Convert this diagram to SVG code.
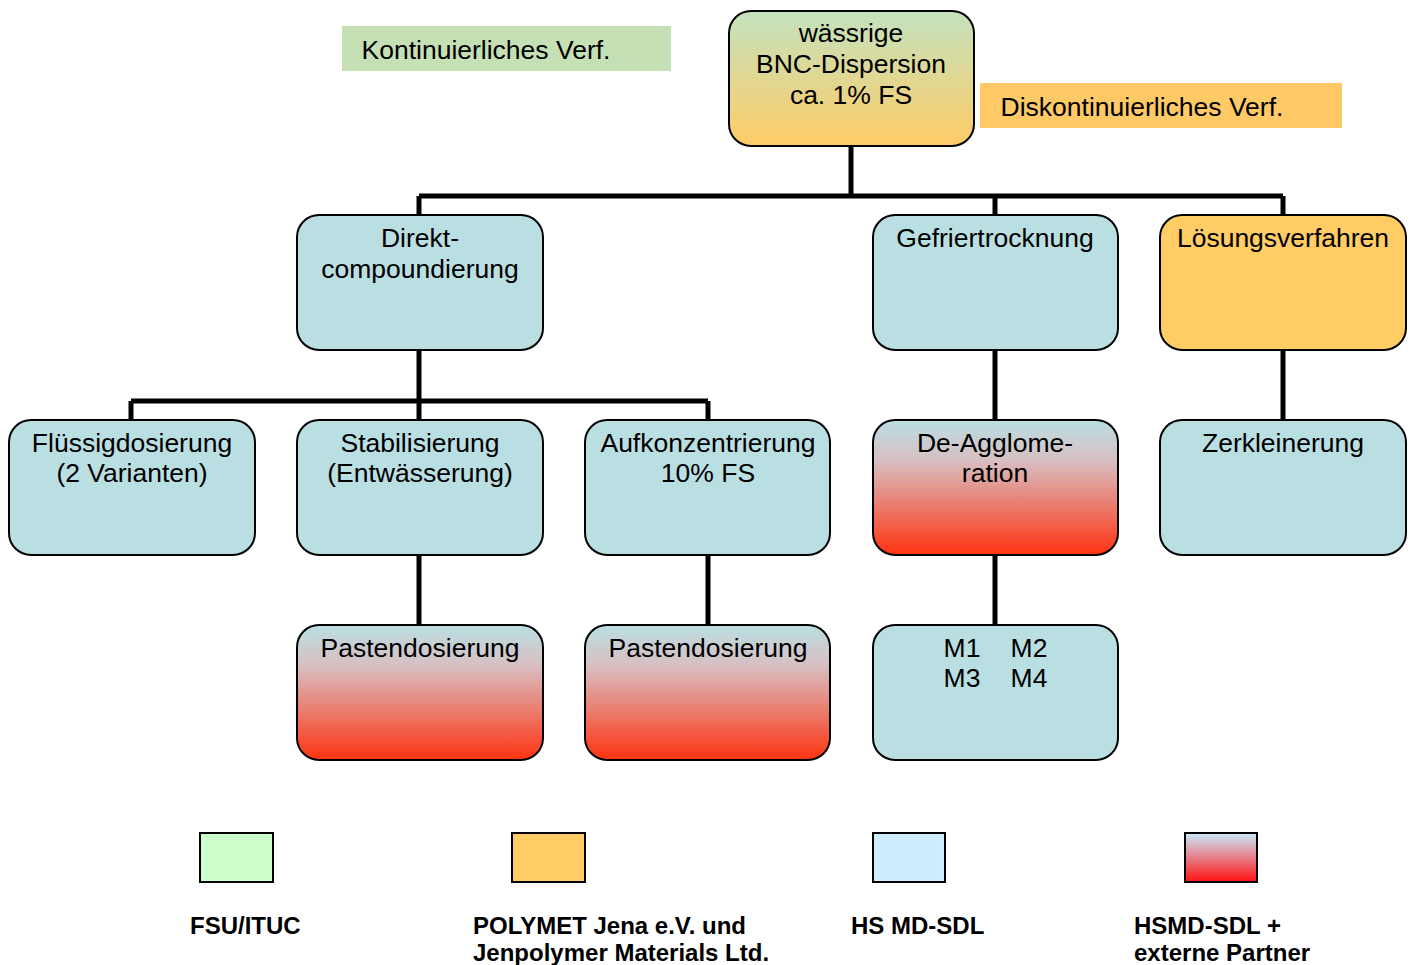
<svg xmlns="http://www.w3.org/2000/svg" width="1415" height="965" viewBox="0 0 1415 965">
<style>
.n{stroke:#000;stroke-width:2}
.b{fill:#BADFE3}
.t{font-family:"Liberation Sans",Arial,sans-serif;font-size:26.5px;fill:#000;text-anchor:middle}
.l{font-family:"Liberation Sans",Arial,sans-serif;font-size:24px;font-weight:bold;fill:#000}
.c{stroke:#000;stroke-width:5;fill:none}
.s{stroke:#000;stroke-width:2}
</style>
<defs>
<linearGradient id="gTop" x1="0" y1="0" x2="0" y2="1"><stop offset="0" stop-color="#C3E2BF"/><stop offset="1" stop-color="#FFCC66"/></linearGradient>
<linearGradient id="gRed" x1="0" y1="0" x2="0" y2="1"><stop offset="0" stop-color="#BADFE3"/><stop offset="0.3" stop-color="#D8BFC2"/><stop offset="1" stop-color="#FF3311"/></linearGradient>
<linearGradient id="gLeg" x1="0" y1="0" x2="0" y2="1"><stop offset="0" stop-color="#CCECFF"/><stop offset="1" stop-color="#FF1111"/></linearGradient>
</defs>
<g id="labels">
<rect x="342" y="26" width="329" height="45" fill="#C5E0B4"/>
<text class="t" x="486" y="59">Kontinuierliches Verf.</text>
<rect x="980" y="83" width="362" height="45" fill="#FFC966"/>
<text class="t" x="1142" y="116">Diskontinuierliches Verf.</text>
</g>
<g id="connectors">
<path class="c" d="M851,146 V196 M419,196 H1283 M419,196 V216 M995,196 V216 M1283,196 V216"/>
<path class="c" d="M419,350 V401 M131,401 H708 M131,401 V421 M419,401 V421 M708,401 V421"/>
<path class="c" d="M995,350 V421 M1283,350 V421"/>
<path class="c" d="M419,555 V626 M708,555 V626 M995,555 V626"/>
</g>
<g id="top"><rect class="n" x="729" y="11" width="245" height="135" rx="22" fill="url(#gTop)"/>
<text class="t" x="851" y="42">wässrige</text><text class="t" x="851" y="73">BNC-Dispersion</text><text class="t" x="851" y="104">ca. 1% FS</text></g>
<g id="direkt"><rect class="n b" x="297" y="215" width="246" height="135" rx="22"/>
<text class="t" x="420" y="247">Direkt-</text><text class="t" x="420" y="278">compoundierung</text></g>
<g id="gefrier"><rect class="n b" x="873" y="215" width="245" height="135" rx="22"/>
<text class="t" x="995" y="247">Gefriertrocknung</text></g>
<g id="loesung"><rect class="n" x="1160" y="215" width="246" height="135" rx="22" fill="#FFCC66"/>
<text class="t" x="1283" y="247">Lösungsverfahren</text></g>
<g id="fluessig"><rect class="n b" x="9" y="420" width="246" height="135" rx="22"/>
<text class="t" x="132" y="452">Flüssigdosierung</text><text class="t" x="132" y="482">(2 Varianten)</text></g>
<g id="stabil"><rect class="n b" x="297" y="420" width="246" height="135" rx="22"/>
<text class="t" x="420" y="452">Stabilisierung</text><text class="t" x="420" y="482">(Entwässerung)</text></g>
<g id="aufkonz"><rect class="n b" x="585" y="420" width="245" height="135" rx="22"/>
<text class="t" x="708" y="452">Aufkonzentrierung</text><text class="t" x="708" y="482">10% FS</text></g>
<g id="deagg"><rect class="n" x="873" y="420" width="245" height="135" rx="22" fill="url(#gRed)"/>
<text class="t" x="995" y="452">De-Agglome-</text><text class="t" x="995" y="482">ration</text></g>
<g id="zerkl"><rect class="n b" x="1160" y="420" width="246" height="135" rx="22"/>
<text class="t" x="1283" y="452">Zerkleinerung</text></g>
<g id="paste1"><rect class="n" x="297" y="625" width="246" height="135" rx="22" fill="url(#gRed)"/>
<text class="t" x="420" y="657">Pastendosierung</text></g>
<g id="paste2"><rect class="n" x="585" y="625" width="245" height="135" rx="22" fill="url(#gRed)"/>
<text class="t" x="708" y="657">Pastendosierung</text></g>
<g id="m"><rect class="n b" x="873" y="625" width="245" height="135" rx="22"/>
<text class="t" x="962" y="657">M1</text><text class="t" x="1029" y="657">M2</text><text class="t" x="962" y="687">M3</text><text class="t" x="1029" y="687">M4</text></g>
<g id="legend">
<rect class="s" x="200" y="833" width="73" height="49" fill="#CCFFCC"/>
<rect class="s" x="512" y="833" width="73" height="49" fill="#FFCC66"/>
<rect class="s" x="873" y="833" width="72" height="49" fill="#CCECFF"/>
<rect class="s" x="1185" y="833" width="72" height="49" fill="url(#gLeg)"/>
<text class="l" x="190" y="934">FSU/ITUC</text>
<text class="l" x="473" y="934">POLYMET Jena e.V. und</text>
<text class="l" x="473" y="961">Jenpolymer Materials Ltd.</text>
<text class="l" x="851" y="934">HS MD-SDL</text>
<text class="l" x="1134" y="934">HSMD-SDL +</text>
<text class="l" x="1134" y="961">externe Partner</text>
</g>
</svg>
